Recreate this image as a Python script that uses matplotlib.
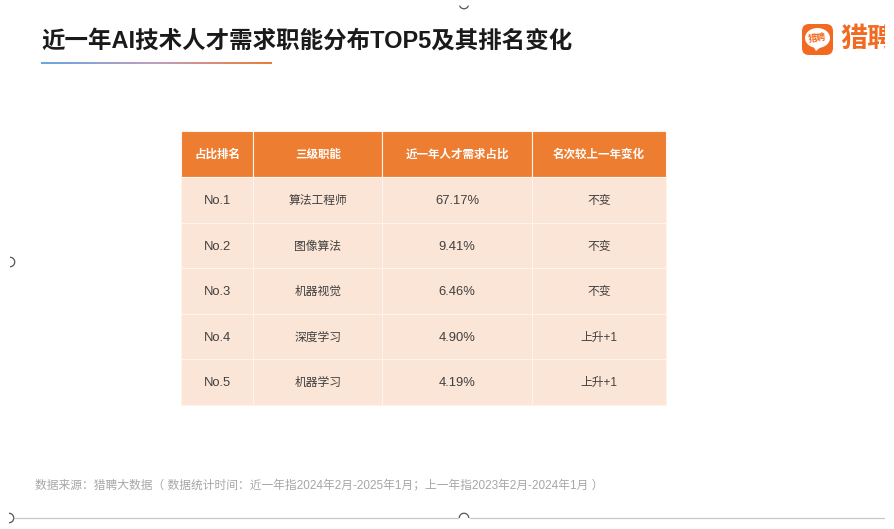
import numpy as np
import matplotlib
matplotlib.use("Agg")
import matplotlib.pyplot as plt
from matplotlib.patches import FancyBboxPatch, Ellipse, Polygon, Arc, Rectangle
from matplotlib.colors import LinearSegmentedColormap
from matplotlib.transforms import Affine2D

plt.rcParams['font.family'] = ['Liberation Sans', 'Noto Sans CJK SC', 'DejaVu Sans']

title = "近一年AI技术人才需求职能分布TOP5及其排名变化"
source = "数据来源：猎聘大数据（ 数据统计时间：近一年指2024年2月-2025年1月；上一年指2023年2月-2024年1月 ）"
header = ["占比排名", "三级职能", "近一年人才需求占比", "名次较上一年变化"]
ranks = ["No.1", "No.2", "No.3", "No.4", "No.5"]
jobs = ["算法工程师", "图像算法", "机器视觉", "深度学习", "机器学习"]
shares = ["67.17%", "9.41%", "6.46%", "4.90%", "4.19%"]
changes = ["不变", "不变", "不变", "上升+1", "上升+1"]

W, H = 894, 529
ORANGE = "#ed7d31"
PEACH = "#fbe5d6"

fig = plt.figure(figsize=(W / 100, H / 100), dpi=100)
# one axes over the whole slide, in pixel units
ax = fig.add_axes([0, 0, 1, 1])
ax.set_xlim(0, W)
ax.set_ylim(H, 0)
ax.axis("off")

# title and gradient rule
ax.text(41, 41.5, title, fontsize=16.9, fontweight="bold", color="#1a1a1a", va="center", ha="left")
cmap = LinearSegmentedColormap.from_list("rule", ["#6aa5e0", "#c09ec0", "#ed7d31"])
ax.imshow(np.linspace(0, 1, 256).reshape(1, -1), cmap=cmap, extent=(41, 272, 64, 62.5), aspect="auto", zorder=2)
ax.set_xlim(0, W)
ax.set_ylim(H, 0)

# logo
ax.add_patch(FancyBboxPatch((806, 28), 23, 23, boxstyle="round,pad=4,rounding_size=7", fc="#f26a21", ec="none"))
ax.add_patch(Ellipse((817.5, 38), 25, 20, fc="white", ec="none"))
ax.add_patch(Polygon([[813, 46], [822, 46], [816, 51]], fc="white", ec="none"))
ax.text(817.5, 38.5, "猎聘", fontsize=6.5, fontweight="bold", color="#f26a21", ha="center", va="center", rotation=8)
ax.text(840, 40, "猎聘", fontsize=19.5, fontweight="bold", color="#f26a21", ha="left", va="center")
ax.add_patch(Rectangle((885, 0), 9, 529, fc="white", ec="none", zorder=3))

# table
rows = [list(r) for r in zip(ranks, jobs, shares, changes)]
col_px = [72, 129, 149, 134]
tbl = ax.table(cellText=rows, colLabels=header, colWidths=[c / W for c in col_px],
               bbox=[181 / W, 1 - 405 / H, 485 / W, 274 / H], cellLoc="center")
tbl.auto_set_font_size(False)
for (r, c), cell in tbl.get_celld().items():
    cell.set_edgecolor("#fff4ec")
    cell.set_linewidth(0.8)
    cell.PAD = 0.02
    if r == 0:
        cell.set_facecolor(ORANGE)
        cell.set_height(46 / 274)
        cell.get_text().set_color("white")
        cell.get_text().set_fontsize(8.3)
        cell.get_text().set_fontweight("bold")
        cell.get_text().set_transform(Affine2D().translate(0, -0.5))
    else:
        cell.set_facecolor(PEACH)
        cell.set_height(45.6 / 274)
        cell.get_text().set_color("#404040")
        cell.get_text().set_fontsize(9.4 if c in (0, 2) else 8.5)
        cell.get_text().set_transform(Affine2D().translate(0, -1.2))

# footnote
ax.text(35, 485.5, source, fontsize=8.45, color="#a6a6a6", ha="left", va="center")

# selection frame left over from the screenshot
ax.plot([14, 458], [518, 518], color="#c8c8c8", lw=0.9)
ax.plot([470, 885], [518, 518], color="#c8c8c8", lw=0.9)
for cx, cy, a1, a2 in [(464, 518, 180, 360), (464, 4, 20, 160), (10, 262, -90, 90), (9, 518, -90, 90)]:
    ax.add_patch(Arc((cx, cy), 9.5, 9.5, theta1=a1, theta2=a2, color="#555555", lw=0.9))

fig.savefig("out.png", dpi=100)
